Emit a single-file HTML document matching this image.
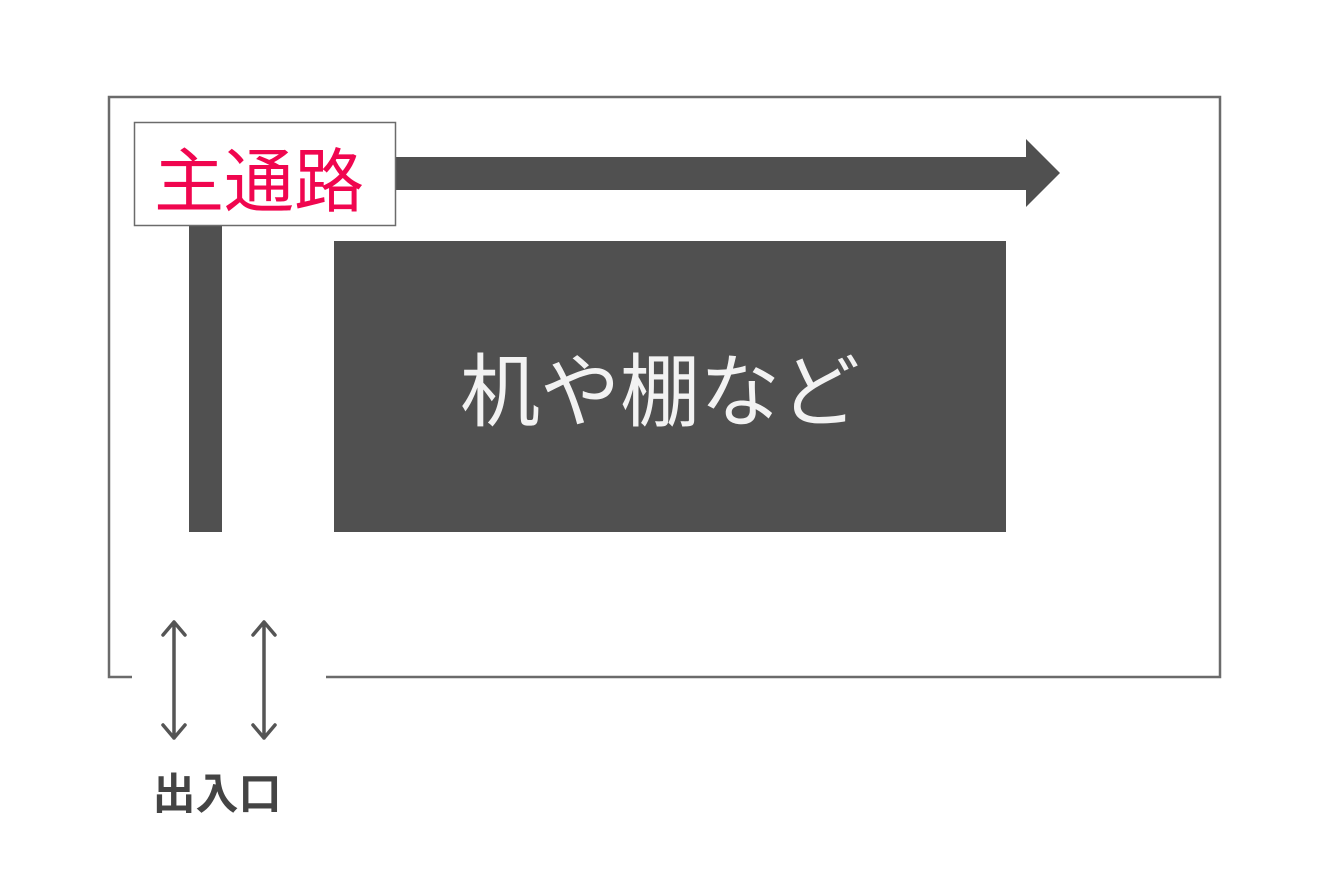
<!DOCTYPE html>
<html><head><meta charset="utf-8"><style>body{margin:0;background:#fff}</style></head>
<body>
<svg width="1320" height="880" xmlns="http://www.w3.org/2000/svg">
<path d="M132 677 H109 V97 H1220 V677 H326" fill="none" stroke="#6b6b6b" stroke-width="2.5"/>
<rect x="334" y="241" width="672" height="291" fill="#505050"/>
<text x="660" y="420" text-anchor="middle" font-family="Liberation Sans, Noto Sans CJK JP, sans-serif" font-size="80" fill="#f2f2f2">机や棚など</text>
<rect x="189" y="226" width="33" height="306" fill="#505050"/>
<rect x="396" y="157" width="632" height="33" fill="#505050"/>
<polygon points="1026,139 1060,173 1026,207" fill="#505050"/>
<rect x="134.5" y="122.5" width="261" height="103" fill="#fff" stroke="#6b6b6b" stroke-width="1.5"/>
<text x="259" y="206" text-anchor="middle" font-family="Liberation Sans, Noto Sans CJK JP, sans-serif" font-size="70" fill="#f0064f">主通路</text>
<g stroke="#555" stroke-width="3.5" fill="none" stroke-linecap="round" stroke-linejoin="round">
<path d="M174 622 V738 M163 635 L174 622 L185 635 M163 725 L174 738 L185 725"/>
<path d="M264 622 V738 M253 635 L264 622 L275 635 M253 725 L264 738 L275 725"/>
</g>
<text x="217" y="809" text-anchor="middle" font-family="Liberation Sans, Noto Sans CJK JP, sans-serif" font-size="43" font-weight="bold" fill="#444">出入口</text>
</svg>
</body></html>
